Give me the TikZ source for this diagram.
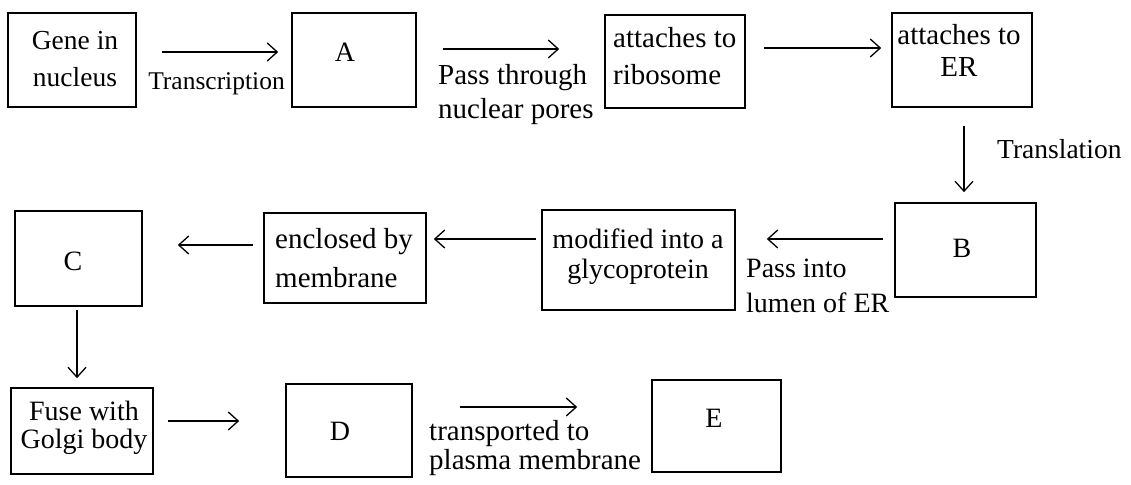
\documentclass[tikz,border=0pt]{standalone}
\usepackage{fontspec}
\setmainfont{Liberation Serif}
\usetikzlibrary{arrows.meta,calc}
\tikzset{
  box/.style={draw, line width=1.6pt, inner sep=0pt},
  txt/.style 2 args={font=\fontsize{#1}{#2}\selectfont, inner sep=0pt},
  arr/.style={line width=1.3pt, -{Straight Barb[length=10pt,width=18pt,line width=1.3pt]}}
}
\begin{document}
\begin{tikzpicture}[x=1pt,y=-1pt]
\useasboundingbox[fill=white] (0,0) rectangle (1131,484);
% boxes
\node[box, minimum width=128pt, minimum height=94pt] (gene) at (72,60) {};
\node[box, minimum width=124pt, minimum height=94pt] (A) at (354,60) {};
\node[box, minimum width=140pt, minimum height=93pt] (rib) at (675,61.5) {};
\node[box, minimum width=140pt, minimum height=94pt] (er) at (962,60) {};
\node[box, minimum width=141pt, minimum height=94pt] (B) at (965.5,250) {};
\node[box, minimum width=193pt, minimum height=100pt] (mod) at (638.5,260) {};
\node[box, minimum width=162pt, minimum height=90pt] (enc) at (345,258) {};
\node[box, minimum width=127pt, minimum height=95pt] (C) at (78.5,258.5) {};
\node[box, minimum width=142pt, minimum height=86pt] (fuse) at (82,431) {};
\node[box, minimum width=126pt, minimum height=93pt] (D) at (349,430.5) {};
\node[box, minimum width=129pt, minimum height=92pt] (E) at (716.5,426) {};
% texts in boxes
\node[txt={27.5}{37}, align=center, anchor=base] (genet) at (75,87) {Gene in\\nucleus};
\node[txt={28}{30}, anchor=base] (At) at (345,62) {A};
\node[txt={29}{37}, align=left, anchor=base west] (ribt) at (613,85) {attaches to\\ribosome};
\node[txt={29}{32}, align=center, anchor=base] (ert) at (959,77) {attaches to\\ER};
\node[txt={28}{30}, anchor=base] (Bt) at (962,257) {B};
\node[txt={28}{30}, align=center, anchor=base] (modt) at (638,278) {modified into a\\glycoprotein};
\node[txt={29}{39}, align=left, anchor=base west] (enct) at (275,287) {enclosed by\\membrane};
\node[txt={28}{30}, anchor=base] (Ct) at (73,270) {C};
\node[txt={28}{28}, align=center, anchor=base] (fuset) at (84,448) {Fuse with\\Golgi body};
\node[txt={28}{30}, anchor=base] (Dt) at (340,440) {D};
\node[txt={28}{30}, anchor=base] (Et) at (714,427) {E};
% arrow labels
\node[txt={25.5}{30}, anchor=base] (l1) at (216.5,90) {Transcription};
\node[txt={29}{33}, align=left, anchor=base west] (l2) at (438,118) {Pass through\\nuclear pores};
\node[txt={27.5}{32}, anchor=base west] (l4) at (997,158) {Translation};
\node[txt={28}{35}, align=left, anchor=base west] (l5) at (746,312) {Pass into\\lumen of ER};
\node[txt={29}{29}, align=left, anchor=base west] (l10) at (429,469) {transported to\\plasma membrane};
% arrow start points
\coordinate (s1) at ($(gene.east)+(0,-8)$);
\coordinate (s2) at ($(A.east)+(0,-11)$);
\coordinate (s3) at ($(rib.east)+(0,-13.5)$);
\coordinate (s4) at ($(er.south)+(2,0)$);
\coordinate (s5) at ($(B.west)+(0,-11)$);
\coordinate (s6) at ($(mod.west)+(0,-21)$);
\coordinate (s7) at ($(enc.west)+(0,-13)$);
\coordinate (s8) at ($(C.south)+(-1.5,0)$);
\coordinate (s9) at ($(fuse.east)+(0,-10)$);
\coordinate (s10) at ($(D.east)+(0,-23.5)$);
% arrows
\draw[arr, shorten <=25pt, shorten >=13pt] (s1) -- (s1 -| A.west);
\draw[arr, shorten <=26pt, shorten >=45pt] (s2) -- (s2 -| rib.west);
\draw[arr, shorten <=18pt, shorten >=10pt] (s3) -- (s3 -| er.west);
\draw[arr, shorten <=18pt, shorten >=10pt] (s4) -- (s4 |- B.north);
\draw[arr, shorten <=11pt, shorten >=31pt] (s5) -- (s5 -| mod.east);
\draw[arr, shorten <=5pt, shorten >=7pt] (s6) -- (s6 -| enc.east);
\draw[arr, shorten <=10pt, shorten >=35pt] (s7) -- (s7 -| C.east);
\draw[arr, shorten <=3pt, shorten >=9pt] (s8) -- (s8 |- fuse.north);
\draw[arr, shorten <=14pt, shorten >=46pt] (s9) -- (s9 -| D.west);
\draw[arr, shorten <=47pt, shorten >=74pt] (s10) -- (s10 -| E.west);
\end{tikzpicture}
\end{document}
